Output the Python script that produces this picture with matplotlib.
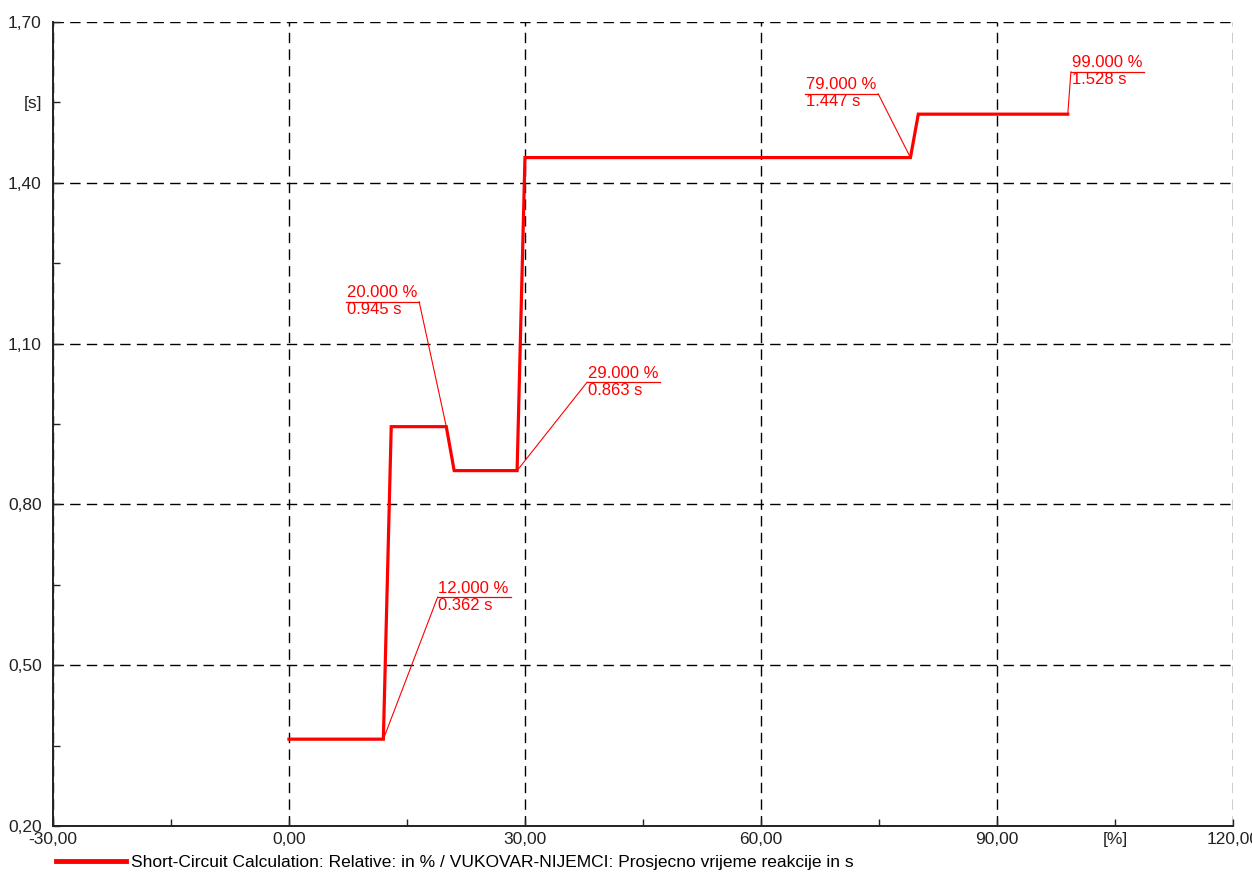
import numpy as np
import matplotlib.pyplot as plt
from matplotlib.lines import Line2D

plt.rcParams['font.family'] = ['Liberation Sans', 'DejaVu Sans']

# step curve: relative position in % vs. average reaction time in s
pos = [0, 12, 13, 20, 21, 29, 30, 79, 80, 99]
t_react = [0.362, 0.362, 0.945, 0.945, 0.863, 0.863, 1.447, 1.447, 1.528, 1.528]

# annotated points
ann_x = [12, 20, 29, 79, 99]
ann_y = [0.362, 0.945, 0.863, 1.447, 1.528]

xticks = [-30, 0, 30, 60, 90, 120]
xticklabels = ['-30,00', '0,00', '30,00', '60,00', '90,00', '120,00']
yticks = [0.20, 0.50, 0.80, 1.10, 1.40, 1.70]
yticklabels = ['0,20', '0,50', '0,80', '1,10', '1,40', '1,70']

legend_label = 'Short-Circuit Calculation: Relative: in % / VUKOVAR-NIJEMCI: Prosjecno vrijeme reakcije in s'

red = '#ff0000'
fig = plt.figure(figsize=(12.52, 8.75), dpi=100)
ax = fig.add_axes([0.0423, 0.056, 0.9425, 0.9189])

ax.plot(pos, t_react, color=red, lw=2.3, solid_joinstyle='miter', label=legend_label, zorder=3)

# label boxes: (left x, underline y, leader goes to 'left' or 'right' end)
label_pos = [(18.9, 0.627, 'left'), (7.25, 1.178, 'right'), (37.9, 1.028, 'left'),
             (65.6, 1.566, 'right'), (99.4, 1.607, 'left')]
w = 9.3
for (px, py), (lx, ly, side) in zip(zip(ann_x, ann_y), label_pos):
    ax.plot([lx, lx + w], [ly, ly], color=red, lw=0.9, zorder=4)
    ex = lx if side == 'left' else lx + w
    ax.plot([px, ex], [py, ly], color=red, lw=0.8, zorder=4)
    ax.text(lx + 0.1, ly + 0.003, '%.3f %%' % px, color=red, fontsize=12,
            ha='left', va='bottom')
    ax.text(lx + 0.1, ly - 0.001, '%.3f s' % py, color=red, fontsize=12,
            ha='left', va='top')

ax.set_xlim(-30, 120)
ax.set_ylim(0.20, 1.70)
ax.set_xticks(xticks, xticklabels)
ax.set_yticks(yticks, yticklabels)
ax.set_xticks([-15, 15, 45, 75, 105], ['', '', '', '', '[%]'], minor=True)
ax.set_yticks([0.35, 0.65, 0.95, 1.25, 1.55], ['', '', '', '', '[s]'], minor=True)
ax.tick_params(which='both', direction='in', length=5, width=1, labelsize=12.5,
               colors='#222222')
ax.tick_params(axis='y', which='both', pad=8)
ax.tick_params(axis='x', which='both', pad=4)

ax.grid(True, which='major', color='black', ls=(0, (7.5, 4.5)), lw=1.0)
for s in ['top', 'right']:
    ax.spines[s].set_visible(False)
for s in ['left', 'bottom']:
    ax.spines[s].set_color('#222222')
    ax.spines[s].set_linewidth(1.4)

fig.legend(handles=[Line2D([], [], color=red, lw=3.5)], labels=[legend_label],
           loc='center left', bbox_to_anchor=(0.038, 0.014), frameon=False,
           handlelength=4.0, fontsize=12.5, handletextpad=0.3, borderpad=0)

plt.savefig('out.png', dpi=100)
